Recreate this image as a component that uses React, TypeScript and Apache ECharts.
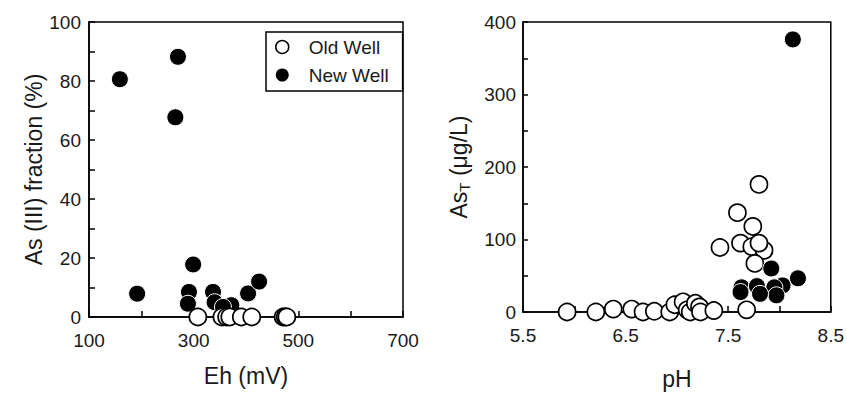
import React, { useEffect, useRef } from "react";
import * as echarts from "echarts";

// Left panel: Eh (mV) vs As(III) fraction (%)
const ehOldWell: number[][] = [
  [308, 0], [354, 0], [363, 0], [369, 0], [391, 0], [411, 0], [471, 0], [475, 0], [478, 0],
];
const ehNewWell: number[][] = [
  [159, 80.6], [270, 88.2], [265, 67.7], [192, 7.9], [299, 17.8],
  [291, 8.5], [289, 4.5], [337, 8.5], [340, 5], [372, 4], [356, 3.4], [404, 8], [425, 12],
];

// Right panel: pH vs As_T (µg/L)
const phOldWell: number[][] = [
  [5.93, 0], [6.21, 0], [6.38, 4], [6.56, 4], [6.67, 0], [6.78, 1], [6.93, 0], [6.98, 10],
  [7.06, 14], [7.10, 3], [7.13, 0], [7.18, 12], [7.22, 7], [7.23, 0], [7.36, 2], [7.68, 3],
  [7.80, 176], [7.59, 137], [7.74, 118], [7.42, 89], [7.62, 95], [7.73, 90], [7.85, 85],
  [7.76, 67], [7.80, 95],
];
const phNewWell: number[][] = [
  [8.13, 376], [8.18, 46.5], [7.92, 60], [7.63, 34], [7.78, 35.7], [8.03, 36.6],
  [7.62, 27.5], [7.95, 34], [7.97, 23], [7.81, 25],
];

const legendNames = ["Old Well", "New Well"];
const ehTickLabels = [100, 300, 500, 700];
const fracTickLabels = [0, 20, 40, 60, 80, 100];
const phTickLabels = [5.5, 6.5, 7.5, 8.5];
const asTickLabels = [0, 100, 200, 300, 400];

const FONT = "'Liberation Sans', Arial, Helvetica, sans-serif";
const TXT = "#1a1a1a";

function near(list: number[], v: number) {
  return list.some((t) => Math.abs(t - v) < 1e-6);
}

export default function App() {
  const ref = useRef<HTMLDivElement>(null);
  useEffect(() => {
    document.body.style.margin = "0";
    const chart = echarts.init(ref.current!, null, { renderer: "svg" });
    const axisLine = { show: true, lineStyle: { color: "#000", width: 1.5 } };
    const axisTick = { show: true, inside: true, length: 6, lineStyle: { color: "#000", width: 1.5 } };
    const label = { color: TXT, fontSize: 19, fontFamily: FONT };
    const nameStyle = { color: TXT, fontSize: 23, fontFamily: FONT };
    const oldStyle = { color: "#fff", borderColor: "#000", borderWidth: 1.7, opacity: 1 };
    const newStyle = { color: "#000", borderColor: "#fff", borderWidth: 1, opacity: 1 };

    chart.setOption({
      animation: false,
      textStyle: { fontFamily: FONT },
      grid: [
        { left: 89, top: 22, width: 314, height: 295, show: true, borderColor: "#000", borderWidth: 1.5, backgroundColor: "transparent" },
        { left: 523, top: 22, width: 312, height: 295, show: true, borderColor: "#000", borderWidth: 1.5, backgroundColor: "transparent" },
      ],
      legend: {
        data: [
          { name: legendNames[0], itemStyle: { color: "#fff", borderColor: "#000", borderWidth: 1.5, opacity: 1 } },
          { name: legendNames[1], itemStyle: { color: "#000", borderWidth: 0, opacity: 1 } },
        ],
        orient: "vertical",
        left: 266,
        top: 32,
        padding: [5, 14, 6, 9],
        itemGap: 8,
        itemWidth: 13,
        itemHeight: 13,
        icon: "circle",
        borderColor: "#000",
        borderWidth: 1.5,
        textStyle: { color: TXT, fontSize: 19, fontFamily: FONT, padding: [0, 0, 0, 15], lineHeight: 20 },
      },
      xAxis: [
        {
          gridIndex: 0, type: "value", min: 100, max: 700, interval: 100,
          name: "Eh (mV)", nameLocation: "middle", nameGap: 47, nameTextStyle: nameStyle,
          axisLine, axisTick, splitLine: { show: false },
          axisLabel: { ...label, margin: 14, showMinLabel: true, showMaxLabel: true,
            formatter: (v: number) => (near(ehTickLabels, v) ? String(v) : "") },
        },
        {
          gridIndex: 1, type: "value", min: 5.5, max: 8.5, interval: 0.5,
          name: "pH", nameLocation: "middle", nameGap: 55, nameTextStyle: nameStyle,
          axisLine, axisTick, splitLine: { show: false },
          axisLabel: { ...label, margin: 14, showMinLabel: true, showMaxLabel: true,
            formatter: (v: number) => (near(phTickLabels, v) ? v.toFixed(1) : "") },
        },
      ],
      yAxis: [
        {
          gridIndex: 0, type: "value", min: 0, max: 100, interval: 10,
          name: "As (III) fraction (%)", nameLocation: "middle", nameGap: 42, nameTextStyle: nameStyle,
          axisLine, axisTick, splitLine: { show: false },
          axisLabel: { ...label, margin: 8, showMinLabel: true, showMaxLabel: true,
            formatter: (v: number) => (near(fracTickLabels, v) ? String(v) : "") },
        },
        {
          gridIndex: 1, type: "value", min: 0, max: 400, interval: 50,
          name: "{n|As}{s|T}{n| (μg/L)}", nameLocation: "middle", nameGap: 51,
          nameTextStyle: {
            ...nameStyle,
            rich: {
              n: { fontSize: 23, fontFamily: FONT, color: TXT, lineHeight: 27 },
              s: { fontSize: 15, fontFamily: FONT, color: TXT, lineHeight: 15, verticalAlign: "bottom" },
            },
          },
          axisLine, axisTick: { ...axisTick, length: 5 }, splitLine: { show: false },
          axisLabel: { ...label, margin: 7, showMinLabel: true, showMaxLabel: true,
            formatter: (v: number) => (near(asTickLabels, v) ? String(v) : "") },
        },
      ],
      series: [
        { name: legendNames[1], type: "scatter", xAxisIndex: 0, yAxisIndex: 0, data: ehNewWell, symbol: "circle", symbolSize: 17, itemStyle: newStyle, z: 2 },
        { name: legendNames[0], type: "scatter", xAxisIndex: 0, yAxisIndex: 0, data: ehOldWell, symbol: "circle", symbolSize: 17, itemStyle: oldStyle, z: 3 },
        { name: legendNames[0], type: "scatter", xAxisIndex: 1, yAxisIndex: 1, data: phOldWell, symbol: "circle", symbolSize: 17, itemStyle: oldStyle, z: 2 },
        { name: legendNames[1], type: "scatter", xAxisIndex: 1, yAxisIndex: 1, data: phNewWell, symbol: "circle", symbolSize: 17, itemStyle: newStyle, z: 3 },
      ],
    });
    return () => chart.dispose();
  }, []);
  return <div ref={ref} style={{ width: 847, height: 395 }} />;
}
